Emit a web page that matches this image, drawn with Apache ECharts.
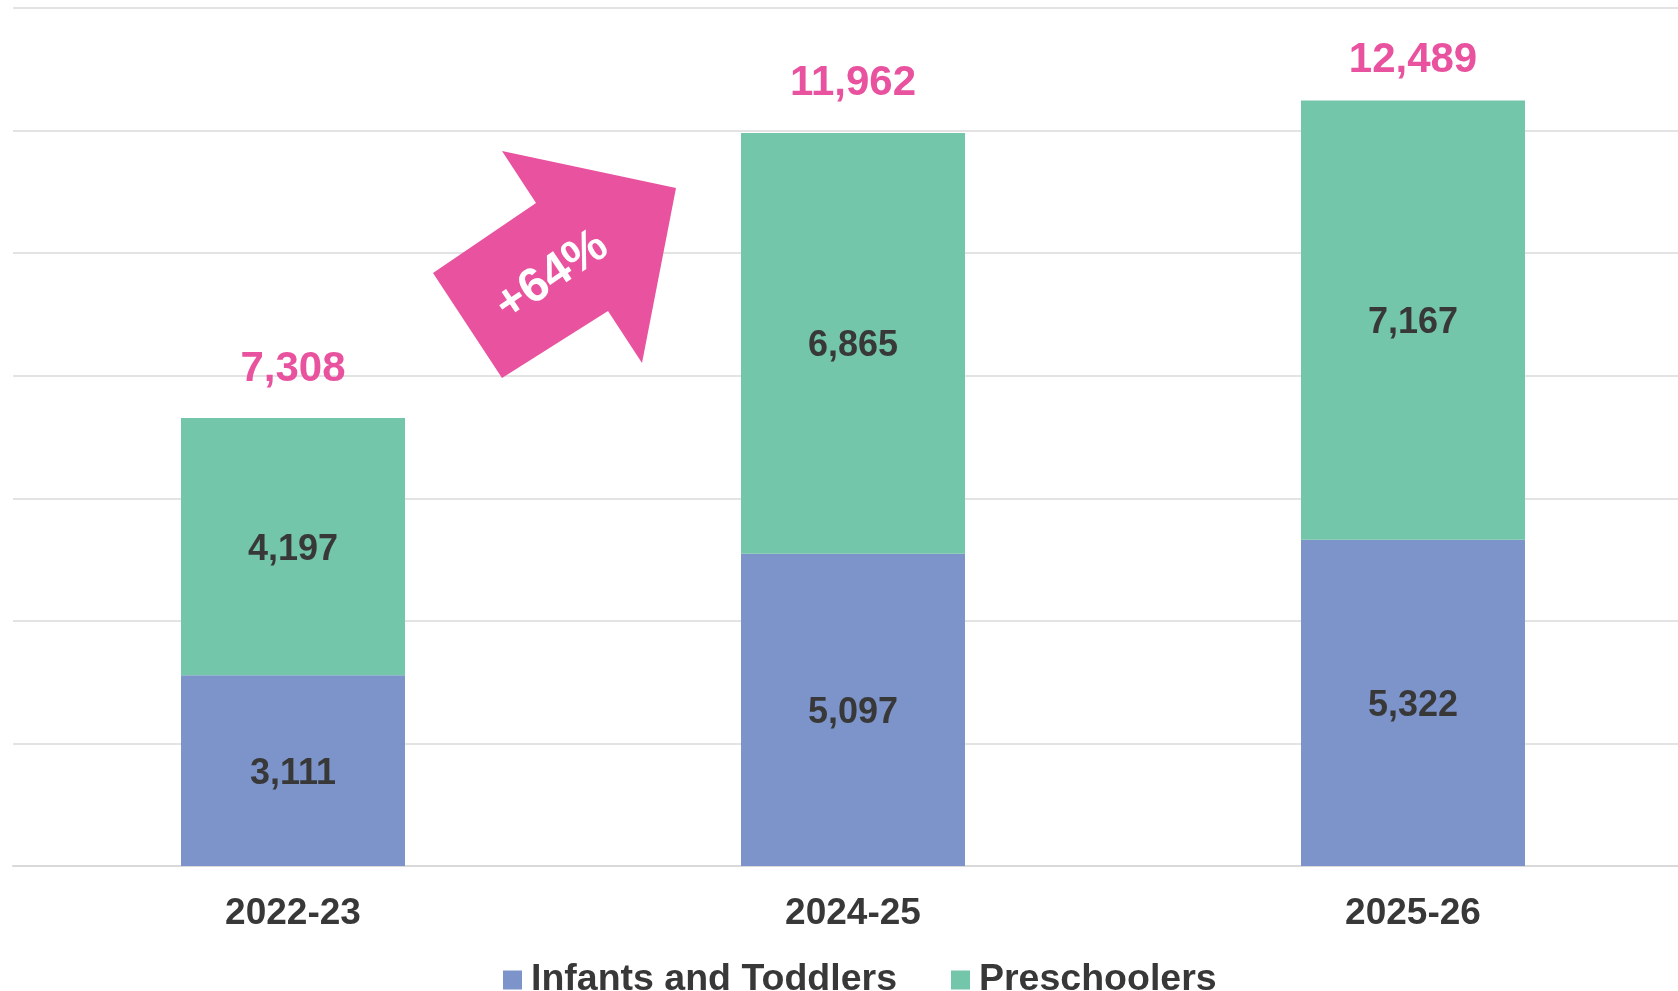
<!DOCTYPE html>
<html>
<head>
<meta charset="utf-8">
<script src="https://cdn.jsdelivr.net/npm/echarts@6/dist/echarts.min.js"></script>
<style>
  html, body { margin: 0; padding: 0; background: #fff; }
  #chart { width: 1678px; height: 991px; }
</style>
</head>
<body>
<div id="chart"></div>
<script>
const years = ['2022-23', '2024-25', '2025-26'];
const infants = [3111, 5097, 5322];
const preschoolers = [4197, 6865, 7167];
const totals = [7308, 11962, 12489];

const FONT = '"Liberation Sans", Arial, sans-serif';
const DARK = '#383838';
const PINK = '#e8529e';

const chart = echarts.init(document.getElementById('chart'));
const fmt = p => p.value.toLocaleString('en-US');
const innerLabel = {
  show: true, position: 'inside', offset: [0, 3], formatter: fmt,
  fontFamily: FONT, fontWeight: 'bold', fontSize: 36, color: DARK
};

// last total sits a little closer to its bar (near the top edge)
const totalData = totals.map((v, i) => i === 2 ? { value: v, label: { distance: 19 } } : v);

chart.setOption({
  animation: false,
  grid: { left: 13, width: 1680, top: 8, bottom: 125, outerBoundsMode: 'none', containLabel: false },
  legend: {
    top: 956,
    left: 498,
    itemWidth: 19, itemHeight: 19, itemGap: 54,
    icon: 'rect',
    textStyle: { fontFamily: FONT, fontWeight: 'bold', fontSize: 37.5, color: DARK, padding: [0, 0, 0, 4] },
    data: ['Infants and Toddlers', 'Preschoolers']
  },
  xAxis: {
    type: 'category',
    data: years,
    axisTick: { show: false },
    axisLine: { lineStyle: { color: '#d9d9d9', width: 2 } },
    axisLabel: { fontFamily: FONT, fontWeight: 'bold', fontSize: 37, color: DARK, margin: 29 }
  },
  yAxis: {
    type: 'value',
    min: 0, max: 14000, interval: 2000,
    axisLabel: { show: false },
    splitLine: { lineStyle: { color: '#e3e3e3', width: 2 } }
  },
  series: [
    {
      name: 'Infants and Toddlers',
      type: 'bar', stack: 'total', barWidth: '40%',
      itemStyle: { color: '#7d94cb' },
      label: innerLabel,
      data: infants
    },
    {
      name: 'Preschoolers',
      type: 'bar', stack: 'total',
      itemStyle: { color: '#73c6a9' },
      label: innerLabel,
      data: preschoolers
    },
    {
      name: 'Total',
      type: 'scatter',
      symbolSize: 0,
      itemStyle: { color: 'rgba(0,0,0,0)', opacity: 1 },
      label: { show: true, position: 'top', distance: 28, formatter: fmt, fontFamily: FONT, fontWeight: 'bold', fontSize: 42, color: PINK },
      data: totalData,
      z: 5
    }
  ],
  graphic: [
    {
      type: 'polygon', z: 100,
      shape: { points: [[433, 273], [536, 203], [502, 151], [676, 188], [642, 363], [608, 311], [502, 378]] },
      style: { fill: PINK }
    },
    {
      type: 'text', z: 101,
      x: 552, y: 276, rotation: 34 * Math.PI / 180,
      style: { text: '+64%', fill: '#fff', font: 'bold 48px ' + FONT, align: 'center', verticalAlign: 'middle' }
    }
  ]
});
</script>
</body>
</html>
